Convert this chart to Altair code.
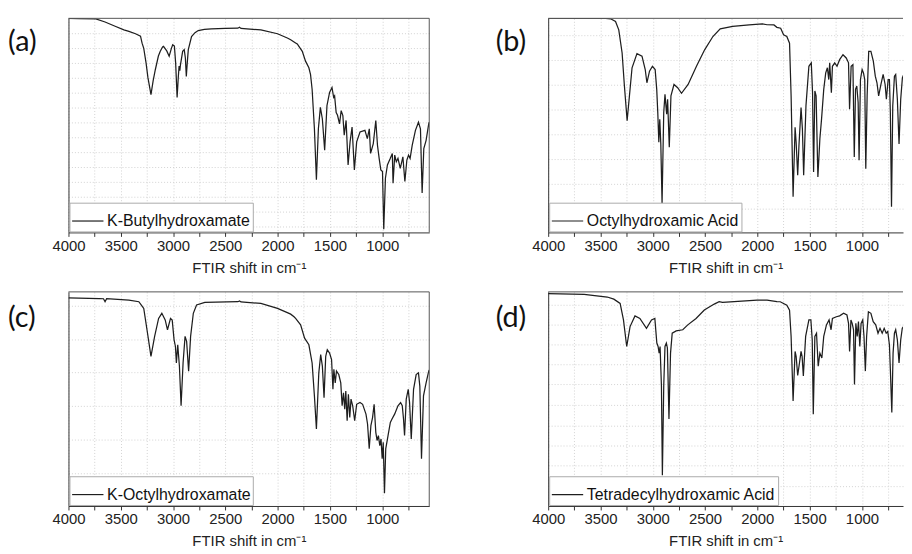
import altair as alt
import pandas as pd

# ---------------- data ----------------
# (a) K-Butylhydroxamate
a_name = "K-Butylhydroxamate"
a_wn = [4000, 3900, 3738, 3650, 3548, 3470, 3422, 3359, 3311, 3296, 3280, 3258, 3240, 3211, 3190, 3169, 3140,
        3122, 3100, 3091, 3060, 3037, 3015, 3003, 2987, 2975, 2961, 2950, 2942, 2935, 2929, 2908, 2893,
        2882, 2873, 2864, 2854, 2823, 2790, 2759, 2700, 2633, 2500, 2380, 2365, 2350, 2160, 2001, 1907,
        1875, 1828, 1812, 1764, 1733, 1701, 1685, 1670, 1648, 1629, 1610, 1591, 1572, 1550, 1528, 1503,
        1480, 1464, 1455, 1440, 1427, 1408, 1392, 1376, 1363, 1345, 1326, 1307, 1288, 1266, 1244, 1212,
        1165, 1142, 1123, 1111, 1085, 1061, 1045, 1029, 1013, 997, 985, 969, 950, 922, 903, 896, 880,
        865, 849, 827, 802, 783, 764, 748, 733, 713, 682, 653, 634, 618, 602, 580, 555, 550]
a_tr = [100, 99.9, 99.7, 98.3, 96.2, 94.6, 93.9, 92.8, 91.7, 88.4, 86.0, 79.2, 72.3, 64.4, 70.9, 76.1, 82.4,
        84.6, 86.6, 86.9, 84.8, 82.3, 86.1, 87.7, 87.1, 79.2, 63.0, 72.3, 77.7, 75.6, 78.3, 84.6, 85.4,
        81.5, 72.8, 79.2, 85.4, 91.5, 93.3, 94.3, 94.8, 95.1, 95.3, 95.4, 95.8, 95.3, 94.6, 92.8, 90.8,
        90.0, 88.5, 88.0, 84.6, 80.0, 76.9, 73.7, 66.9, 48.4, 24.6, 48.4, 58.4, 53.0, 38.4, 59.2, 65.4,
        67.7, 63.1, 63.8, 56.0, 54.7, 50.7, 56.9, 54.6, 45.4, 52.3, 31.5, 42.3, 49.2, 29.2, 42.3, 46.9,
        47.7, 43.8, 48.4, 36.9, 41.5, 52.3, 40.7, 34.6, 29.2, 28.4, 1.5, 25.3, 31.5, 34.6, 36.9, 23.0, 36.1,
        33.0, 34.6, 29.9, 35.3, 23.8, 33.8, 36.1, 34.6, 40.7, 47.7, 51.5, 48.4, 18.4, 39.2, 43.0, 50.7, 51.5]
a_grid = [93.0, 86.1, 79.2, 72.2, 65.3, 58.4, 51.4, 44.5, 37.6, 30.7, 23.7, 16.8, 9.9, 3.0]

# (b) Octylhydroxamic Acid
b_name = "Octylhydroxamic Acid"
b_wn = [4000, 3700, 3450, 3403, 3356, 3325, 3293, 3271, 3245, 3223, 3198, 3151, 3103, 3072, 3056, 3031,
        3003, 2977, 2962, 2952, 2942, 2933, 2923, 2911, 2895, 2883, 2867, 2858, 2842, 2826, 2797, 2762,
        2725, 2662, 2582, 2504, 2425, 2355, 2236, 2078, 1952, 1907, 1841, 1813, 1777, 1749, 1718, 1692,
        1677, 1658, 1639, 1629, 1614, 1602, 1582, 1569, 1557, 1535, 1507, 1484, 1472, 1462, 1450, 1438,
        1421, 1402, 1386, 1365, 1346, 1330, 1317, 1308, 1292, 1282, 1260, 1238, 1213, 1181, 1150, 1128,
        1118, 1103, 1086, 1073, 1061, 1049, 1036, 1027, 1014, 998, 985, 973, 963, 950, 935, 914, 891,
        872, 856, 840, 818, 797, 778, 766, 749, 737, 728, 717, 705, 689, 677, 661, 645, 629, 613, 600]
b_tr = [100, 100, 100, 99.8, 98.5, 94.6, 83.8, 68.4, 52.2, 63.8, 76.9, 83.5, 82.3, 76.1, 69.9, 75.3,
        77.6, 76.1, 66.8, 56.0, 42.1, 52.9, 41.3, 13.6, 56.0, 64.5, 55.2, 62.2, 39.8, 63.8, 69.1, 67.6,
        65.0, 69.1, 77.6, 85.3, 91.5, 95.1, 96.2, 96.9, 97.4, 97.0, 96.9, 95.8, 95.4, 92.3, 91.5, 88.4,
        63.8, 16.7, 49.1, 42.1, 26.7, 40.6, 58.3, 48.3, 26.7, 59.1, 77.6, 79.2, 65.3, 28.2, 66.1, 63.8,
        25.9, 43.7, 52.9, 66.8, 74.5, 76.9, 71.4, 79.2, 65.3, 77.6, 79.2, 77.6, 80.7, 83.0, 81.5, 79.2,
        57.5, 77.6, 78.4, 35.2, 66.8, 68.4, 60.7, 33.7, 71.4, 76.1, 74.5, 71.4, 29.8, 63.8, 84.6, 84.6, 80.0,
        73.0, 69.9, 63.8, 69.1, 73.8, 69.1, 62.2, 71.4, 71.4, 56.0, 12.0, 59.1, 73.0, 73.8, 62.2, 41.3, 62.2, 72.2, 73.8]
b_grid = [92.3, 80.7, 69.1, 57.5, 46.0, 34.4, 22.8, 11.3]

# (c) K-Octylhydroxamate
c_name = "K-Octylhydroxamate"
c_wn = [4000, 3706, 3665, 3650, 3635, 3422, 3327, 3296, 3280, 3249, 3211, 3176, 3138, 3107, 3075, 3053,
        3024, 3008, 2990, 2977, 2968, 2955, 2939, 2923, 2904, 2885, 2870, 2851, 2832, 2806, 2775, 2696,
        2380, 2364, 2350, 2160, 2001, 1907, 1875, 1843, 1828, 1780, 1742, 1701, 1670, 1648, 1629, 1606,
        1588, 1572, 1556, 1540, 1525, 1503, 1484, 1471, 1462, 1449, 1437, 1415, 1396, 1383, 1370, 1358,
        1348, 1335, 1323, 1310, 1298, 1282, 1263, 1244, 1212, 1187, 1155, 1140, 1124, 1108, 1092, 1077,
        1061, 1049, 1036, 1023, 1011, 1000, 990, 978, 966, 944, 922, 906, 881, 849, 824, 808, 796, 786,
        770, 751, 738, 722, 700, 675, 653, 640, 624, 605, 580, 555, 550]
c_tr = [97.2, 96.9, 96.8, 95.4, 96.8, 96.2, 95.4, 93.4, 92.3, 82.3, 69.9, 79.2, 87.6, 90.0, 86.9, 82.3,
        87.6, 86.9, 77.6, 74.5, 66.8, 75.3, 65.3, 46.8, 66.8, 79.2, 76.9, 63.0, 79.2, 90.0, 93.9, 95.1,
        95.4, 95.8, 95.3, 94.6, 92.3, 90.3, 89.6, 88.4, 87.6, 84.6, 78.4, 75.3, 66.8, 51.4, 36.0, 62.2,
        70.7, 65.3, 50.6, 69.9, 73.0, 71.4, 68.4, 54.5, 63.8, 57.5, 63.0, 61.4, 57.5, 46.8, 52.9, 45.2,
        53.7, 39.8, 52.2, 41.3, 49.9, 46.8, 39.8, 47.5, 48.3, 47.5, 42.9, 38.3, 26.7, 37.5, 41.3, 47.5,
        34.4, 30.6, 32.9, 28.2, 31.3, 22.1, 29.8, 5.9, 26.7, 32.9, 39.0, 40.6, 42.9, 46.8, 48.3, 46.8, 40.6, 32.9,
        49.9, 54.5, 48.3, 31.3, 54.5, 61.4, 62.2, 56.0, 22.1, 51.4, 57.5, 63.0, 63.5]
c_grid = [93.5, 77.9, 62.3, 46.6, 30.9, 15.3]

# (d) Tetradecylhydroxamic Acid
d_name = "Tetradecylhydroxamic Acid"
d_wn = [4000, 3656, 3435, 3372, 3312, 3280, 3249, 3217, 3170, 3123, 3060, 3012, 2980, 2961, 2949, 2939,
        2930, 2917, 2908, 2895, 2883, 2870, 2860, 2845, 2830, 2814, 2776, 2713, 2665, 2586, 2507, 2412,
        2365, 2333, 2222, 2002, 1907, 1813, 1781, 1718, 1692, 1677, 1658, 1639, 1629, 1614, 1597, 1582,
        1572, 1560, 1538, 1507, 1488, 1475, 1465, 1450, 1434, 1418, 1402, 1383, 1365, 1339, 1314, 1295,
        1282, 1244, 1213, 1175, 1143, 1128, 1118, 1105, 1093, 1080, 1071, 1058, 1045, 1033, 1020, 1008,
        992, 980, 967, 955, 938, 914, 892, 868, 846, 827, 806, 787, 768, 753, 737, 728, 714, 702, 689,
        677, 661, 645, 629, 614, 602]
d_tr = [99.2, 98.8, 97.6, 96.6, 94.6, 86.9, 74.5, 83.8, 88.8, 87.6, 83.0, 86.9, 87.6, 76.1, 74.5, 71.4,
        74.5, 56.0, 14.4, 56.0, 74.5, 76.1, 73.8, 40.6, 71.4, 80.7, 81.8, 82.3, 84.6, 87.6, 91.5, 94.3,
        95.4, 95.1, 95.5, 96.2, 96.2, 95.5, 95.4, 93.8, 91.5, 79.2, 49.1, 72.2, 69.9, 61.0, 66.8, 72.2,
        69.9, 60.7, 79.2, 86.9, 86.9, 77.6, 42.9, 79.2, 80.7, 65.3, 71.4, 69.1, 79.2, 84.6, 86.9, 82.3,
        87.6, 88.4, 88.8, 90.0, 89.2, 85.3, 72.2, 86.9, 85.3, 82.3, 56.8, 85.3, 79.2, 86.1, 74.5, 85.3,
        86.9, 79.2, 63.0, 79.2, 90.7, 90.0, 86.1, 84.6, 80.7, 83.0, 80.7, 83.0, 80.7, 81.5, 75.3, 63.8, 43.7, 71.4, 80.7,
        82.3, 77.6, 66.8, 77.6, 83.0, 83.8]
d_grid = [94.1, 84.9, 75.6, 66.1, 56.9, 47.1, 37.5, 28.1, 18.8, 9.3]

x_ticks = list(range(4000, 549, -250))
x_title = "FTIR shift in cm⁻¹"

GRID = "#d2d2d2"
FRAME = "#555555"
AXIS = "#333333"
FONT = "Liberation Sans"


def panel(name, letter, wn, tr, grid_vals, x_end, width, label_x, label_y, right_border):
    height = 216
    df = pd.DataFrame({"wn": wn, "tr": tr, "sample": name})
    x_axis = alt.Axis(values=x_ticks, labelExpr="datum.value % 500 === 0 ? '' + datum.value : ''",
                      grid=True, gridDash=[1, 2], gridColor=GRID, tickSize=4, tickColor=AXIS,
                      domainColor=AXIS, labelFont=FONT, labelFontSize=15, labelColor="#222",
                      labelPadding=2, labelFlush=False, labelOverlap=False,
                      title=x_title, titleFont=FONT, titleFontSize=15, titleFontWeight="normal",
                      titleColor="#222", titlePadding=7)
    y_axis = alt.Axis(values=grid_vals, labels=False, ticks=False, title=None, domain=True,
                      domainColor=AXIS, grid=True, gridDash=[1, 2], gridColor=GRID)
    line = alt.Chart(df).mark_line(strokeWidth=1.25, clip=True).encode(
        x=alt.X("wn:Q", scale=alt.Scale(domain=[4000, x_end], nice=False, zero=False), axis=x_axis),
        y=alt.Y("tr:Q", scale=alt.Scale(domain=[0, 100], nice=False, zero=False), axis=y_axis),
        color=alt.Color("sample:N", scale=alt.Scale(range=["#1e1e1e"]),
                        legend=alt.Legend(title=None, orient="bottom-left", offset=1,
                                          symbolType="stroke", symbolSize=1000, symbolStrokeWidth=1.2,
                                          labelFont=FONT, labelFontSize=16, labelColor="#111",
                                          labelOffset=3, strokeColor="#aaaaaa", fillColor="white",
                                          padding=2, cornerRadius=0, labelLimit=400)),
        order="wn:Q",
    )
    one = pd.DataFrame({"t": [letter]})
    top = alt.Chart(one).mark_rule(color=FRAME, strokeWidth=1).encode(
        x=alt.value(0), x2=alt.value(width), y=alt.value(0))
    layers = [line, top]
    if right_border:
        layers.append(alt.Chart(one).mark_rule(color=FRAME, strokeWidth=1).encode(
            x=alt.value(width), y=alt.value(0), y2=alt.value(height)))
    lab = alt.Chart(one).mark_text(align="left", baseline="middle", font="Lato", fontSize=29,
                                   color="#111").encode(
        text="t:N", x=alt.value(label_x), y=alt.value(label_y))
    layers.append(lab)
    return alt.layer(*layers).properties(width=width, height=height)


pa = panel(a_name, "(a)", a_wn, a_tr, a_grid, 550, 364, -61, 24, True)
pb = panel(b_name, "(b)", b_wn, b_tr, b_grid, 607, 358, -53, 24, False)
pc = panel(c_name, "(c)", c_wn, c_tr, c_grid, 550, 364, -61, 26, True)
pd_ = panel(d_name, "(d)", d_wn, d_tr, d_grid, 607, 358, -53, 26, False)

chart = alt.concat(pa, pb, pc, pd_, columns=2, spacing={"row": 60, "column": 120},
                   bounds="flush", align="each").resolve_scale(
    color="independent", x="independent", y="independent").resolve_legend(
    color="independent").properties(
    padding={"left": 0, "top": 7, "right": 0, "bottom": 0}).configure_view(strokeWidth=0)

chart.save("out.html", embed_options={"renderer": "svg", "actions": False})
